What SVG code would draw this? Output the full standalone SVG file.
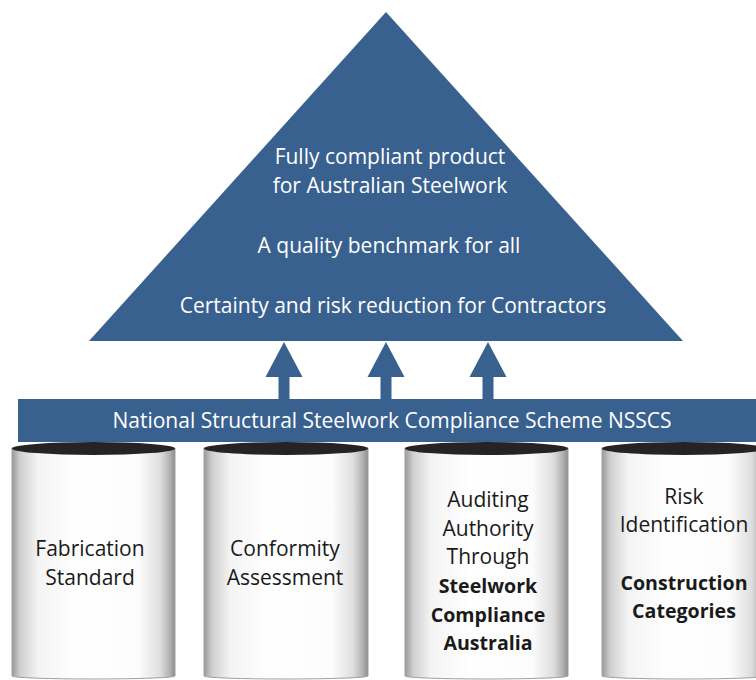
<svg xmlns="http://www.w3.org/2000/svg" width="756" height="680" viewBox="0 0 756 680">
  <defs>
    <linearGradient id="cyl" x1="0" y1="0" x2="1" y2="0">
      <stop offset="0" stop-color="#9a9a9a"/>
      <stop offset="0.05" stop-color="#cfcfcf"/>
      <stop offset="0.16" stop-color="#f4f4f4"/>
      <stop offset="0.4" stop-color="#ffffff"/>
      <stop offset="0.78" stop-color="#fcfcfc"/>
      <stop offset="0.91" stop-color="#dedede"/>
      <stop offset="0.97" stop-color="#b0b0b0"/>
      <stop offset="1" stop-color="#8c8c8c"/>
    </linearGradient>
    <style>
      .blue { fill: #38618f; }
      .body { fill: url(#cyl); stroke: #a0a0a0; stroke-width: 1; }
      .cap { fill: #242424; }
      .wt { fill: #ffffff; font-family: "Open Sans", "Noto Sans", "Liberation Sans", sans-serif; font-size: 21px; text-anchor: middle; }
      .bk { fill: #1a1a1a; font-family: "Open Sans", "Noto Sans", "Liberation Sans", sans-serif; font-size: 21px; text-anchor: middle; }
      .b { font-weight: bold; font-size: 19.6px; }
    </style>
  </defs>
  <rect width="756" height="680" fill="#ffffff"/>

  <g id="pyramid">
    <polygon class="blue" points="386,12 683,341 89,341"/>
    <text class="wt" x="390" y="164">Fully compliant product</text>
    <text class="wt" x="390" y="193">for Australian Steelwork</text>
    <text class="wt" x="389" y="253">A quality benchmark for all</text>
    <text class="wt" x="393" y="313">Certainty and risk reduction for Contractors</text>
  </g>

  <g id="connectors">
    <polygon class="blue" points="278.5,399 278.5,377 265.5,377 284,342 302.5,377 289.5,377 289.5,399"/>
    <polygon class="blue" points="380.5,399 380.5,377 367.5,377 386,342 404.5,377 391.5,377 391.5,399"/>
    <polygon class="blue" points="482.5,399 482.5,377 469.5,377 488,342 506.5,377 493.5,377 493.5,399"/>
  </g>

  <g id="pillar-fabrication">
    <path class="body" d="M12,448 L12,676 A81.5,3 0 0 0 175,676 L175,448 Z"/>
    <ellipse class="cap" cx="93.5" cy="448.5" rx="81.5" ry="6.5"/>
    <text class="bk" x="90" y="556">Fabrication</text>
    <text class="bk" x="90" y="585">Standard</text>
  </g>

  <g id="pillar-conformity">
    <path class="body" d="M204,448 L204,676 A82,3 0 0 0 368,676 L368,448 Z"/>
    <ellipse class="cap" cx="286" cy="448.5" rx="82" ry="6.5"/>
    <text class="bk" x="285" y="556">Conformity</text>
    <text class="bk" x="285" y="585">Assessment</text>
  </g>

  <g id="pillar-auditing">
    <path class="body" d="M405,448 L405,676 A81.5,3 0 0 0 568,676 L568,448 Z"/>
    <ellipse class="cap" cx="486.5" cy="448.5" rx="81.5" ry="6.5"/>
    <text class="bk" x="488" y="507">Auditing</text>
    <text class="bk" x="488" y="536">Authority</text>
    <text class="bk" x="488" y="564">Through</text>
    <text class="bk b" x="488" y="593">Steelwork</text>
    <text class="bk b" x="488" y="622">Compliance</text>
    <text class="bk b" x="488" y="650">Australia</text>
  </g>

  <g id="pillar-risk">
    <path class="body" d="M602,448 L602,676 A82,3 0 0 0 766,676 L766,448 Z"/>
    <ellipse class="cap" cx="684" cy="448.5" rx="82" ry="6.5"/>
    <text class="bk" x="684" y="504">Risk</text>
    <text class="bk" x="684" y="532">Identification</text>
    <text class="bk b" x="684" y="590">Construction</text>
    <text class="bk b" x="684" y="618">Categories</text>
  </g>

  <g id="scheme-bar">
    <rect class="blue" x="18" y="399" width="740" height="43"/>
    <text class="wt" x="392" y="428">National Structural Steelwork Compliance Scheme NSSCS</text>
  </g>
</svg>
